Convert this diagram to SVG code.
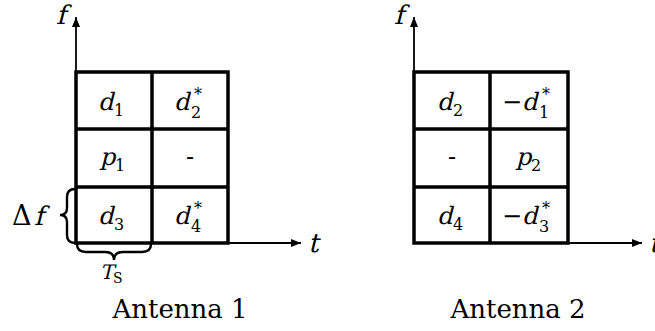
<svg xmlns="http://www.w3.org/2000/svg" width="655" height="331" viewBox="0 0 655 331" font-family="DejaVu Serif, serif">
<style>
.grid{fill:none;stroke:#000;stroke-width:3.5}
.axis{fill:none;stroke:#000;stroke-width:1.8}
.brace{fill:none;stroke:#000;stroke-width:2.4;stroke-linecap:round}
text{font-family:"DejaVu Serif",serif;fill:#000}
.i{font-size:24px}
.r{font-size:24px}
.sub{font-size:16px}
.lbl{font-size:26px}
</style>
<defs>
<marker id="arr" viewBox="0 0 10 8" refX="10" refY="4" markerWidth="10" markerHeight="8" markerUnits="userSpaceOnUse" orient="auto">
<path d="M0,0 L10,4 L0,8 Z" fill="#000"/>
</marker>
</defs>
<rect width="655" height="331" fill="#fff"/>
<g id="connectors">
<path class="axis" d="M76,243 V17" marker-end="url(#arr)"/>
<path class="axis" d="M228,243 H301" marker-end="url(#arr)"/>
<path class="axis" d="M414,243 V17" marker-end="url(#arr)"/>
<path class="axis" d="M568,243 H642" marker-end="url(#arr)"/>
</g>
<g id="antenna1">
<rect class="grid" x="76" y="72" width="152" height="171"/>
<path class="grid" d="M152,72 V243 M76,129 H228 M76,187 H228"/>
<text class="i" transform="translate(56,24) skewX(-14)" style="font-size:26px">f</text>
<text class="i" transform="translate(308,252) skewX(-14)" style="font-size:26px">t</text>
<text class="i" transform="translate(98,110) skewX(-14)">d</text><text class="sub" x="114" y="116">1</text>
<text class="i" transform="translate(174,110) skewX(-14)">d</text><text class="sub" x="194" y="100">*</text><text class="sub" x="191" y="118">2</text>
<text class="i" transform="translate(100,165) skewX(-14)">p</text><text class="sub" x="115" y="171">1</text>
<text class="r" x="190" y="165" text-anchor="middle">-</text>
<text class="i" transform="translate(98,224) skewX(-14)">d</text><text class="sub" x="114" y="230">3</text>
<text class="i" transform="translate(174,224) skewX(-14)">d</text><text class="sub" x="194" y="214">*</text><text class="sub" x="191" y="232">4</text>
<path class="brace" d="M75,189 Q67,189 67,197 L67,208 Q67,215 60,215 Q67,215 67,222 L67,235 Q67,243 75,243"/>
<text class="r" x="12" y="225" style="font-size:27px">Δ</text>
<text class="i" transform="translate(34,225) skewX(-14)" style="font-size:26px">f</text>
<path class="brace" d="M77,244 Q77,252 86,252 L105,252 Q114,252 114,260 Q114,252 123,252 L142,252 Q151,252 151,244"/>
<text class="i" transform="translate(100,279) skewX(-14)" style="font-size:20px">T</text><text x="113" y="283" style="font-size:14px">S</text>
<text class="lbl" x="180" y="318" text-anchor="middle">Antenna 1</text>
</g>
<g id="antenna2">
<rect class="grid" x="414" y="72" width="154" height="171"/>
<path class="grid" d="M490,72 V243 M414,129 H568 M414,187 H568"/>
<text class="i" transform="translate(394,24) skewX(-14)" style="font-size:26px">f</text>
<text class="i" transform="translate(649,252) skewX(-14)" style="font-size:26px">t</text>
<text class="i" transform="translate(437,110) skewX(-14)">d</text><text class="sub" x="453" y="116">2</text>
<text class="r" x="502" y="110">−</text>
<text class="i" transform="translate(522,110) skewX(-14)">d</text><text class="sub" x="542" y="100">*</text><text class="sub" x="539" y="118">1</text>
<text class="r" x="452" y="165" text-anchor="middle">-</text>
<text class="i" transform="translate(516,165) skewX(-14)">p</text><text class="sub" x="531" y="171">2</text>
<text class="i" transform="translate(437,224) skewX(-14)">d</text><text class="sub" x="453" y="230">4</text>
<text class="r" x="502" y="224">−</text>
<text class="i" transform="translate(522,224) skewX(-14)">d</text><text class="sub" x="542" y="214">*</text><text class="sub" x="539" y="232">3</text>
<text class="lbl" x="518" y="318" text-anchor="middle">Antenna 2</text>
</g>
</svg>
